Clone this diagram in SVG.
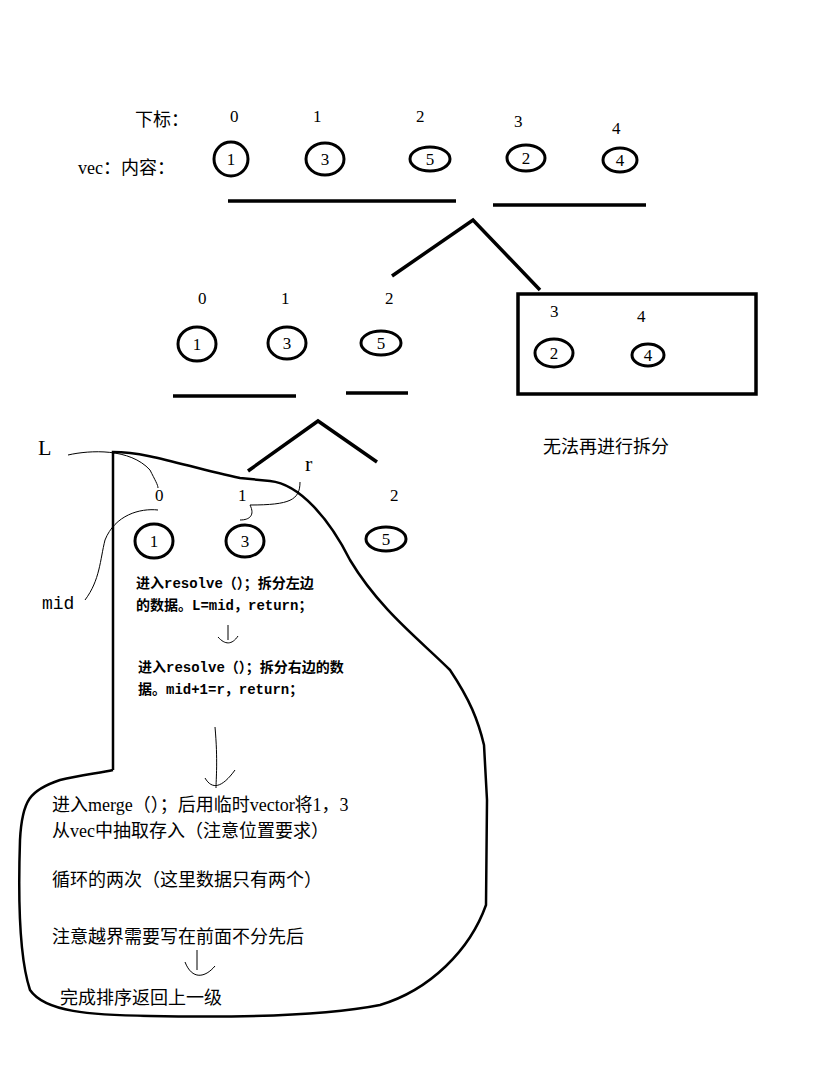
<svg xmlns="http://www.w3.org/2000/svg" width="830" height="1088" viewBox="0 0 830 1088">
<style>
text{font-family:"Liberation Serif","Noto Sans CJK SC",serif;fill:#000}
.n{font-size:17px}
.c{font-size:18px}
.m{font-family:"Liberation Mono","Noto Sans CJK SC",monospace;font-size:14px;font-weight:bold}
.b{font-family:"Liberation Mono","Noto Sans CJK SC",monospace;font-size:18px}
.e{fill:none;stroke:#000;stroke-width:3}
.l{fill:none;stroke:#000;stroke-width:3.5}
.t{fill:none;stroke:#000;stroke-width:1}
</style>
<rect width="830" height="1088" fill="#fff"/>
<text x="135" y="126" class="c">下标：</text>
<text x="78" y="174" class="c">vec：内容：</text>
<g class="n">
<text x="230" y="122">0</text><text x="313" y="122">1</text><text x="416" y="122">2</text><text x="514" y="127">3</text><text x="612" y="134">4</text>
<text x="198" y="304">0</text><text x="281" y="304">1</text><text x="385" y="304">2</text>
<text x="550" y="317">3</text><text x="637" y="322">4</text>
<text x="155" y="501">0</text><text x="238" y="501">1</text><text x="390" y="501">2</text>
</g>
<g class="n">
<ellipse class="e" cx="231" cy="159" rx="17" ry="17"/><text x="231" y="165" text-anchor="middle">1</text>
<ellipse class="e" cx="325" cy="159" rx="19" ry="16"/><text x="325" y="165" text-anchor="middle">3</text>
<ellipse class="e" cx="430" cy="159" rx="20" ry="12"/><text x="430" y="165" text-anchor="middle">5</text>
<ellipse class="e" cx="526" cy="158" rx="19" ry="13"/><text x="526" y="164" text-anchor="middle">2</text>
<ellipse class="e" cx="620" cy="160" rx="17" ry="12"/><text x="620" y="166" text-anchor="middle">4</text>
<ellipse class="e" cx="197" cy="344" rx="19" ry="17"/><text x="197" y="350" text-anchor="middle">1</text>
<ellipse class="e" cx="287" cy="343" rx="19" ry="16"/><text x="287" y="349" text-anchor="middle">3</text>
<ellipse class="e" cx="381" cy="343" rx="20" ry="12"/><text x="381" y="349" text-anchor="middle">5</text>
<ellipse class="e" cx="554" cy="353" rx="19" ry="14"/><text x="554" y="359" text-anchor="middle">2</text>
<ellipse class="e" cx="648" cy="355" rx="16" ry="11"/><text x="648" y="361" text-anchor="middle">4</text>
<ellipse class="e" cx="154" cy="541" rx="19" ry="17"/><text x="154" y="547" text-anchor="middle">1</text>
<ellipse class="e" cx="245" cy="541" rx="19" ry="16"/><text x="245" y="547" text-anchor="middle">3</text>
<ellipse class="e" cx="386" cy="539" rx="20" ry="12"/><text x="386" y="545" text-anchor="middle">5</text>
</g>
<g class="l">
<path d="M228 201H456M493 205H646"/>
<path d="M392 276L473 220L540 290"/>
<path d="M173 396H296M346 393H408"/>
<path d="M248 471L318 421L377 462"/>
<rect x="518" y="294" width="238" height="100" stroke-width="3.5"/>
</g>
<text x="543" y="453" class="c">无法再进行拆分</text>
<text x="38" y="455" style="font-size:22px">L</text>
<text x="305" y="471" style="font-size:22px">r</text>
<text x="42" y="609" class="b">mid</text>
<path d="M113 1015 M113 770V452 C150 452 190 468 240 478 L270 481 C300 484 330 520 350 560 C380 610 420 640 450 670 C470 700 478 720 484 745 L487 800 L486 905 C470 950 430 990 380 1005 C330 1015 250 1018 150 1016 C90 1015 45 1012 30 990 C20 960 18 900 20 840 C22 800 30 790 60 780 C80 775 100 773 113 770" fill="none" stroke="#000" stroke-width="2.5"/>
<g class="t">
<path d="M68 455C90 450 130 448 150 470C155 480 158 485 158 488"/>
<path d="M85 600C100 580 100 560 105 540C115 515 140 508 158 510"/>
<path d="M300 482C300 500 290 505 250 505C255 515 250 520 240 520"/>
<path d="M228 625V640M218 637C225 645 232 645 238 636"/>
<path d="M215 727C218 760 216 780 216 788M205 778C212 790 222 788 235 770"/>
<path d="M197 950V970M185 962C192 980 205 978 215 966"/>
</g>
<text x="136" y="588" class="m">进入resolve（）；拆分左边</text>
<text x="136" y="610" class="m">的数据。L=mid，return；</text>
<text x="138" y="672" class="m">进入resolve（）；拆分右边的数</text>
<text x="138" y="694" class="m">据。mid+1=r，return；</text>
<g class="c">
<text x="52" y="811">进入merge（）；后用临时vector将1，3</text>
<text x="52" y="837">从vec中抽取存入（注意位置要求）</text>
<text x="52" y="886">循环的两次（这里数据只有两个）</text>
<text x="52" y="943">注意越界需要写在前面不分先后</text>
<text x="60" y="1004">完成排序返回上一级</text>
</g>
</svg>
